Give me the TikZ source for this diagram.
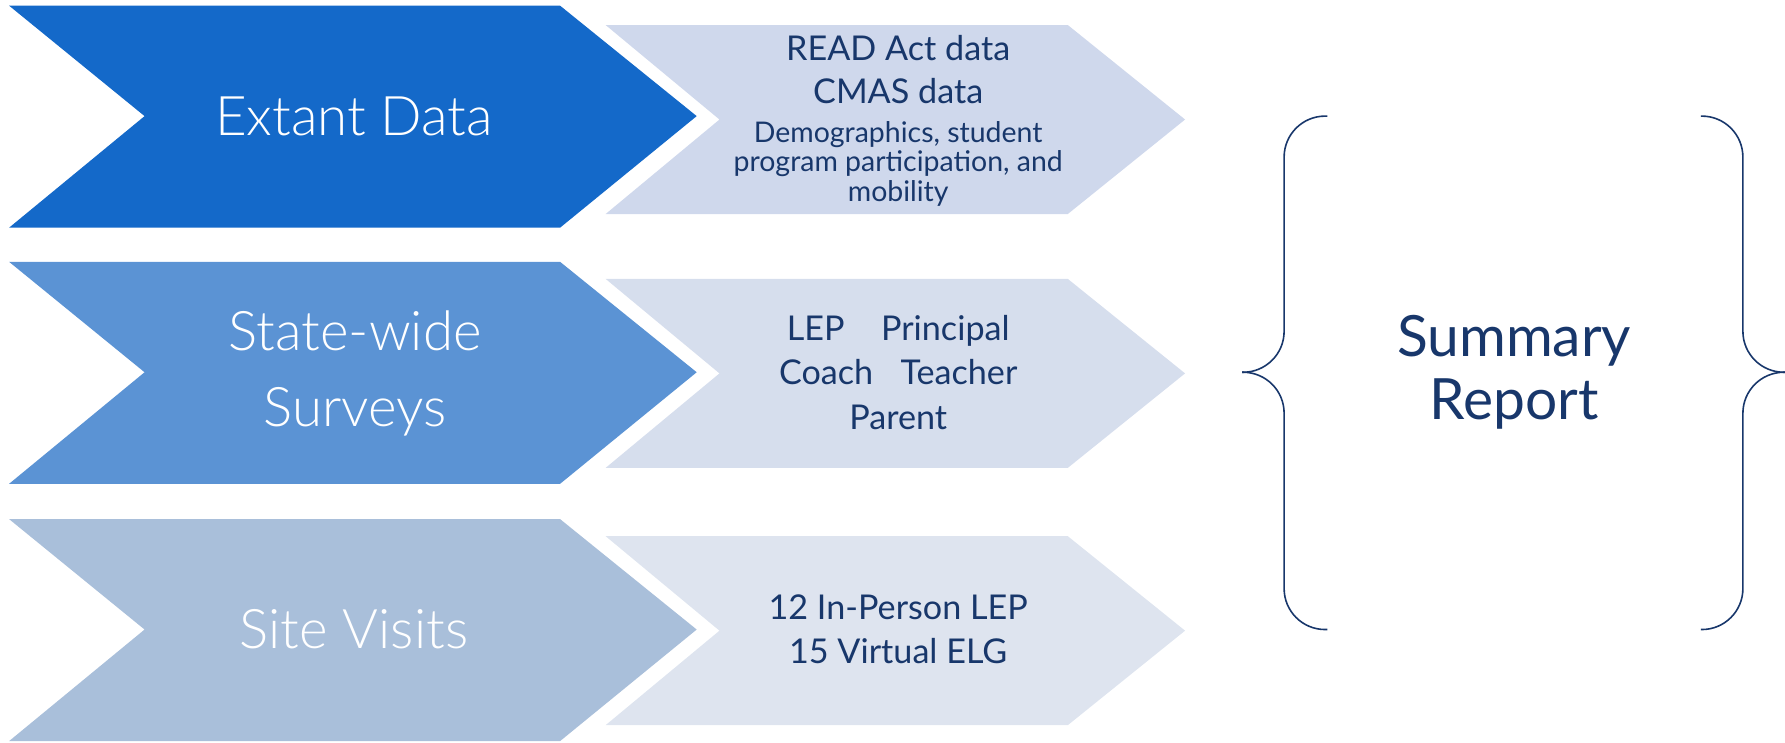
\documentclass[tikz,border=0pt]{standalone}
\usepackage{fontspec}
\setmainfont{Lato}
\newfontfamily\lightfont{Lato Light}
\usepackage{xcolor}
\usepackage{tikz}
\usetikzlibrary{positioning}

\definecolor{extantblue}{HTML}{1469C9}
\definecolor{surveyblue}{HTML}{5B93D4}
\definecolor{visitblue}{HTML}{A9BFDA}
\definecolor{extantpale}{HTML}{CFD8EC}
\definecolor{surveypale}{HTML}{D6DEED}
\definecolor{visitpale}{HTML}{DEE4EF}
\definecolor{navy}{HTML}{18376B}

\begin{document}
\begin{tikzpicture}[x=0.5pt,y=-0.5pt,
    bigtag/.style={text=white,align=center,font=\lightfont\fontsize{24}{33.5}\selectfont},
    itemtext/.style={text=navy,align=center,font=\fontsize{15}{19.5}\selectfont},
    smalltext/.style={text=navy,align=center,font=\fontsize{12.5}{13}\selectfont},
    reporttext/.style={text=navy,align=center,font=\fontsize{25}{27.5}\selectfont},
    brace/.style={draw=navy,line width=0.7pt,rounded corners=18pt}]

  % Sheet
  \useasboundingbox (0,0) rectangle (1568,652);

  % Big tags
  \fill[extantblue] (8,5) -- (492,5) -- (612,102) -- (492,200) -- (8,200) -- (127,102) -- cycle;
  \fill[surveyblue] (8,230) -- (492,230) -- (612,327) -- (492,425) -- (8,425) -- (127,327) -- cycle;
  \fill[visitblue] (8,456) -- (492,456) -- (612,553) -- (492,651) -- (8,651) -- (127,553) -- cycle;

  % Pale tags
  \fill[extantpale] (532,22) -- (938,22) -- (1041,105) -- (938,188) -- (532,188) -- (632,105) -- cycle;
  \fill[surveypale] (532,245) -- (938,245) -- (1041,328) -- (938,411) -- (532,411) -- (632,328) -- cycle;
  \fill[visitpale] (532,471) -- (938,471) -- (1041,554) -- (938,637) -- (532,637) -- (632,554) -- cycle;

  % Labels
  \node[bigtag] (extant) at (311,102) {Extant Data};
  \node[bigtag] (surveys) at (312,328) {State-wide\\Surveys};
  \node[bigtag] (visits) at (311,553) {Site Visits};

  \node[itemtext] (readact) at (789,42) {READ Act data};
  \node[itemtext] (cmas) at (789,80) {CMAS data};
  \node[smalltext] (demogr) at (789,144) {Demographics, student\\program participation, and\\mobility};

  \node[itemtext] (roles) at (789,327) {LEP\hspace{16pt}Principal\\Coach\hspace{12pt}Teacher\\Parent};
  \node[itemtext] (sites) at (789,553) {12 In-Person LEP\\15 Virtual ELG};

  % Braces
  \draw[brace] (1166,102) -| (1128,327) -- (1091,327);
  \draw[brace] (1091,327) -- (1128,327) |- (1166,553);
  \draw[brace] (1494,102) -| (1531,327) -- (1568,327);
  \draw[brace] (1568,327) -- (1531,327) |- (1494,553);

  \node[reporttext] (report) at (1330,327) {Summary\\Report};
\end{tikzpicture}
\end{document}
